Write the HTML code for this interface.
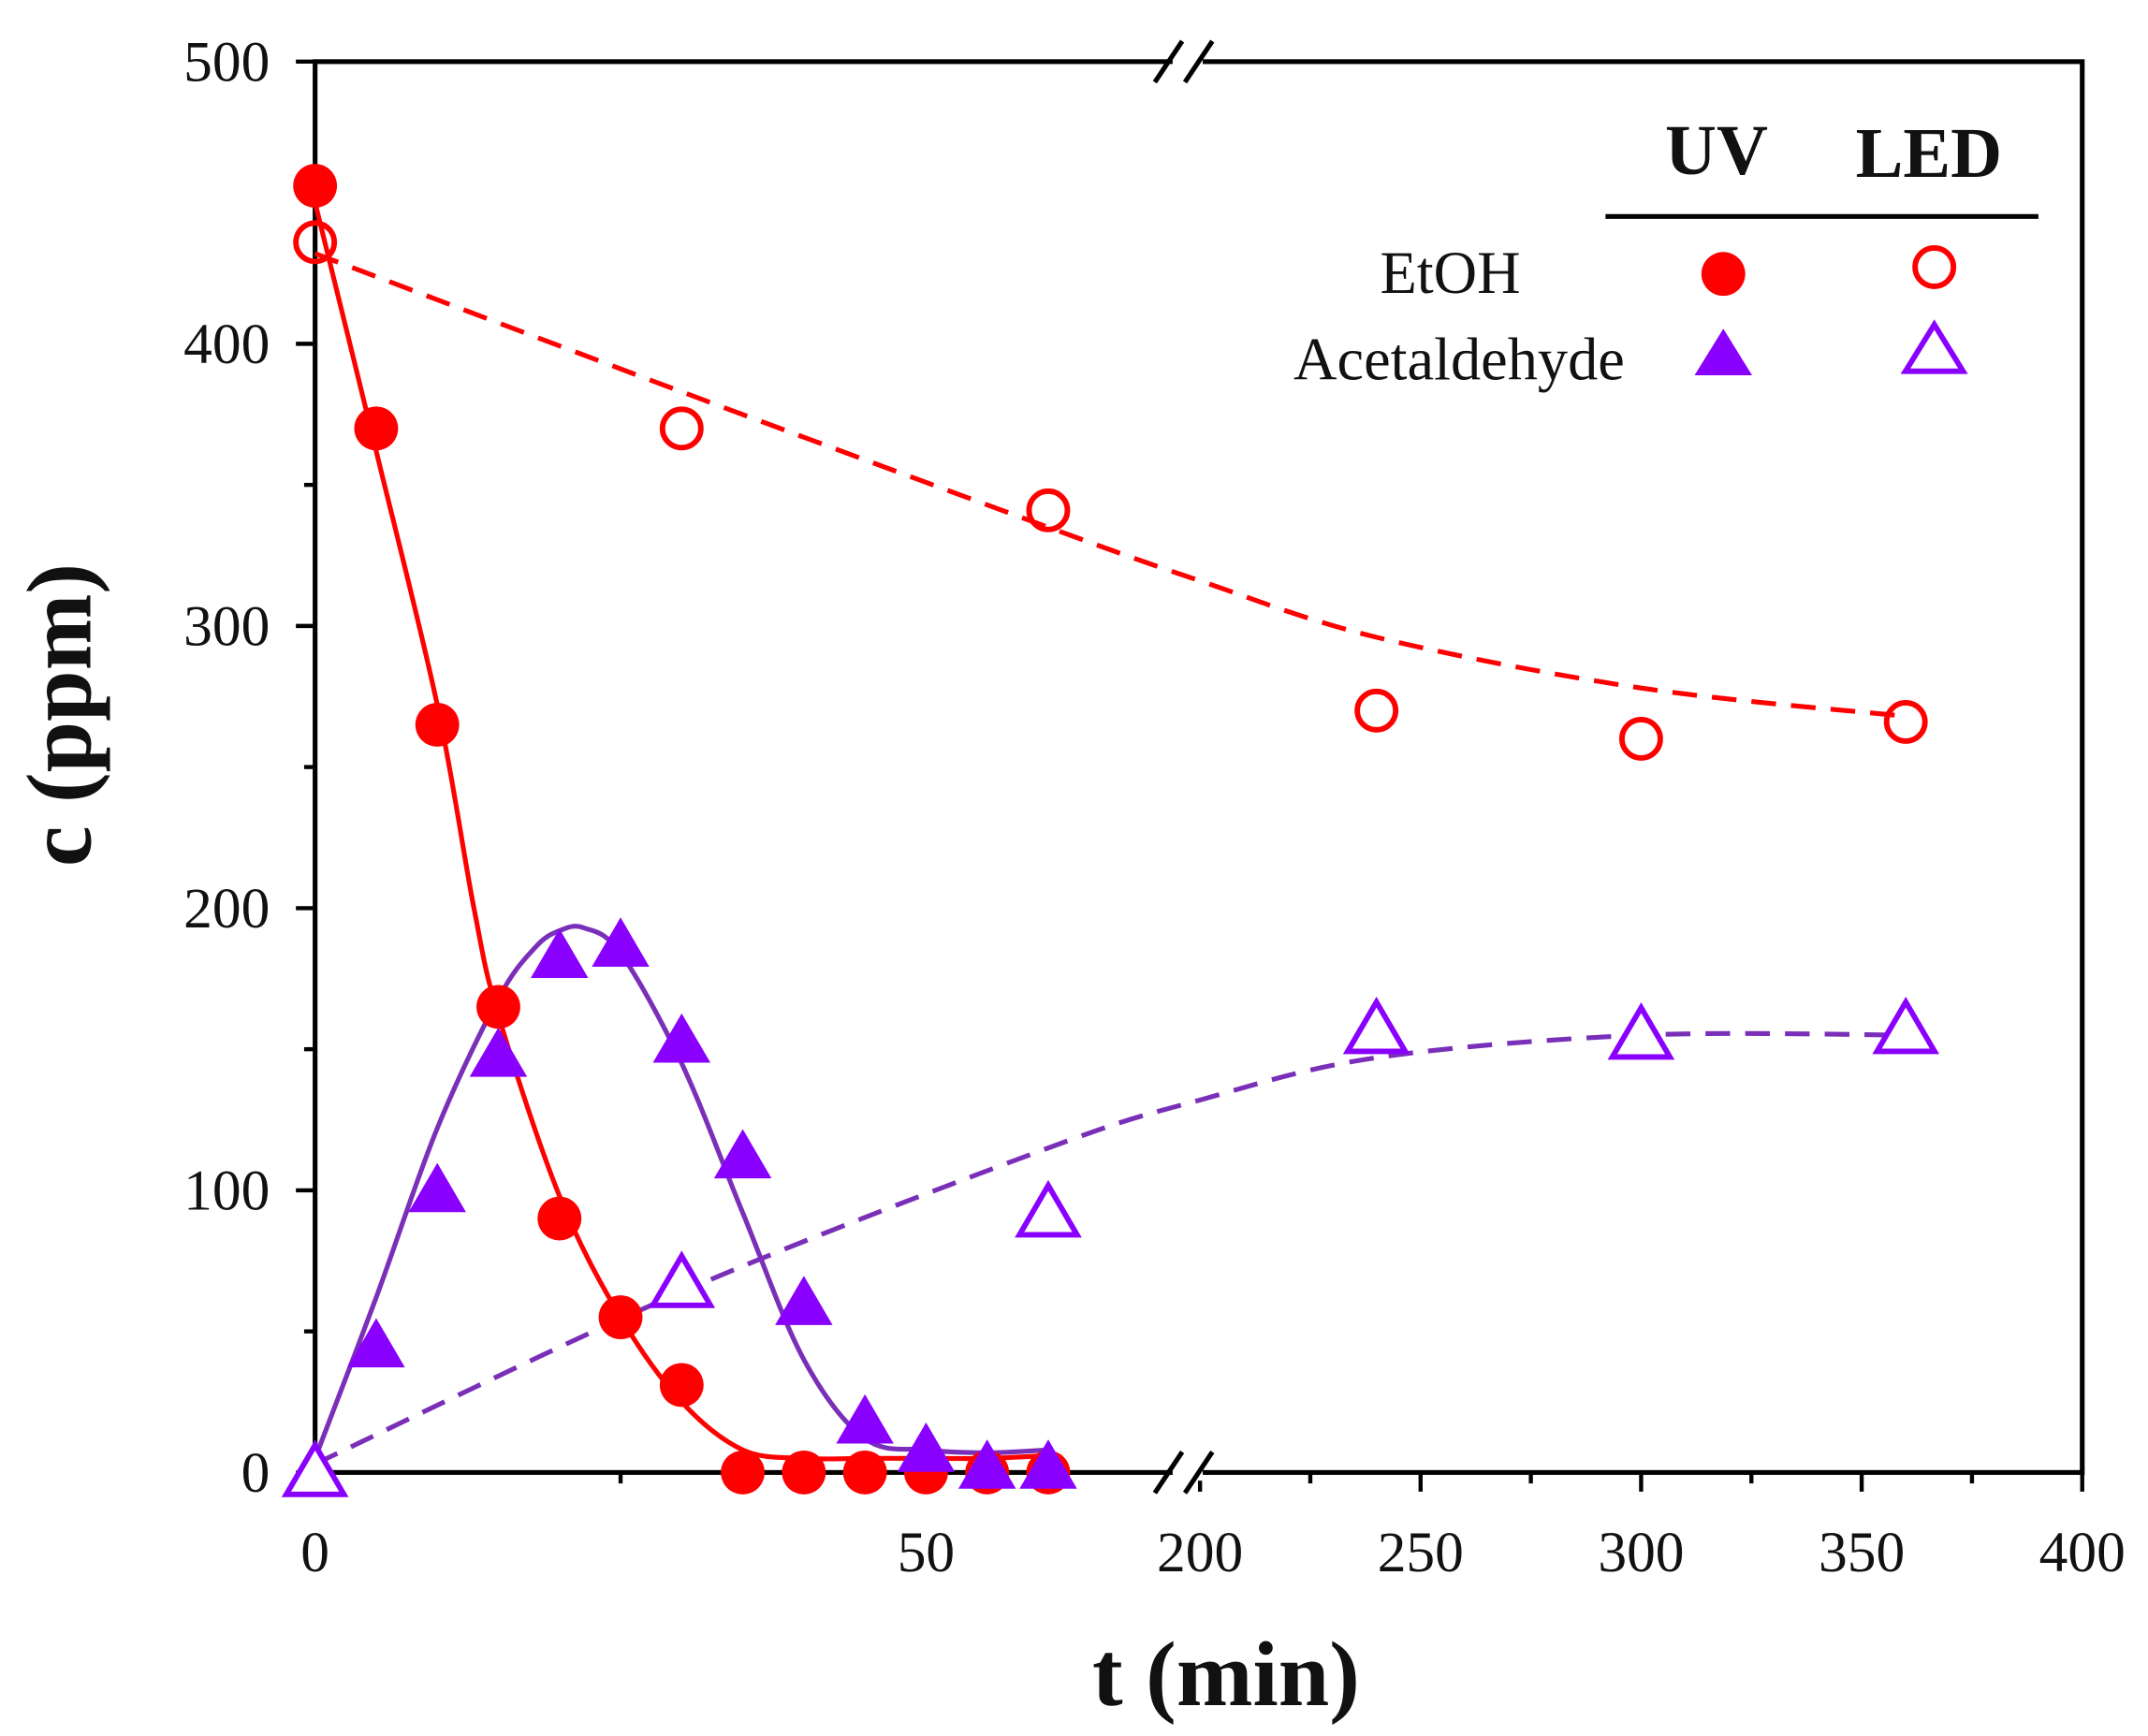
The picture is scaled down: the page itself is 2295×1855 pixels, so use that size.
<!DOCTYPE html>
<html><head><meta charset="utf-8"><style>
html,body{margin:0;padding:0;background:#fff;}
svg{display:block;}
text{font-family:"Liberation Serif",serif;fill:#111;}
</style></head><body>
<svg id="chart" width="2295" height="1855" viewBox="0 0 1568 1267.4" xmlns="http://www.w3.org/2000/svg"></svg>
<script>
// ---- data ----
const uvT = [0,5,10,15,20,25,30,35,40,45,50,55,60];
const uvEtOH = [456,370,265,165,90,55,31,0,0,0,0,0,0];
const uvAcet = [0,45,100,148,183,187,153,112,60,18,8,2,2];
const ledT = [0,30,60,240,300,360];
const ledEtOH = [436,370,341,270,260,266];
const ledAcet = [0,67,92,157,155,157];
const fitUvT = [0,5,10,13,15,20,25,30,35,40,45,50,55,60];
const fitUvEtOH = [450,362,272,200,162,98,55,25,8,5,5,5,5,6];
const fitUvAcetT = [0,5,10,15,18,20,22,25,30,35,40,45,50,55,60];
const fitUvAcet = [5,62,122,168,186,192,193,184,145,92,40,12,8,7,8];
const fitLedT = [0,30,60,200,240,300,360];
const fitLedEtOH = [432,383,335,316,296,278,268];
const fitLedAcet = [3,64,115,132,147,155,155];
const yTicks = [0,100,200,300,400,500];
const xTicksLeft = [0,50];
const xTicksRight = [200,250,300,350,400];

// ---- axes ----
const L=230,R=1520,T=45,B=1075;
function X(t){ return t<=100 ? 230 + t*(676-230)/50 : 876 + (t-200)*(1520-876)/200; }
function Y(v){ return B - v*(B-T)/500; }

const svg=document.getElementById('chart');
const NS='http://www.w3.org/2000/svg';
function mk(tag,attrs,parent){const e=document.createElementNS(NS,tag);for(const k in attrs)e.setAttribute(k,attrs[k]);(parent||svg).appendChild(e);return e;}

const axes=mk('g',{});


mk('rect',{x:L,y:T,width:R-L,height:B-T,fill:'none',stroke:'#000','stroke-width':3.5},axes);
for(let v=0;v<=500;v+=50){const maj=v%100===0;mk('line',{x1:L,x2:L-(maj?14:8),y1:Y(v),y2:Y(v),stroke:'#000','stroke-width':3},axes);}
yTicks.forEach(v=>{const t=mk('text',{x:197,y:Y(v)+14,'text-anchor':'end','font-size':42});t.textContent=v;

});
[0,25,50].forEach(v=>{const maj=v%50===0;mk('line',{x1:X(v),x2:X(v),y1:B,y2:B+(maj?14:8),stroke:'#000','stroke-width':3},axes);});
for(let v=200;v<=400;v+=25){const maj=v%50===0;mk('line',{x1:X(v),x2:X(v),y1:B,y2:B+(maj?14:8),stroke:'#000','stroke-width':3},axes);}
xTicksLeft.concat(xTicksRight).forEach(v=>{const t=mk('text',{x:X(v),y:B+72,'text-anchor':'middle','font-size':42});t.textContent=v;

});
[T,B].forEach(yy=>{
 mk('rect',{x:856,y:yy-6,width:22,height:12,fill:'#fff'},axes);
 mk('line',{x1:843,y1:yy+15,x2:863,y2:yy-15,stroke:'#000','stroke-width':3.5},axes);
 mk('line',{x1:865,y1:yy+15,x2:885,y2:yy-15,stroke:'#000','stroke-width':3.5},axes);
});

function pathFrom(ts,vs){
 const p=ts.map((t,i)=>[X(t),Y(vs[i])]);
 let d='M'+p[0][0]+','+p[0][1];
 for(let i=0;i<p.length-1;i++){
  const p0=p[i-1]||p[i],p1=p[i],p2=p[i+1],p3=p[i+2]||p2;
  const c1=[p1[0]+(p2[0]-p0[0])/6,p1[1]+(p2[1]-p0[1])/6];
  const c2=[p2[0]-(p3[0]-p1[0])/6,p2[1]-(p3[1]-p1[1])/6];
  d+=' C'+c1+' '+c2+' '+p2;
 }
 return d;
}
const c1=mk('path',{d:pathFrom(fitUvT,fitUvEtOH),fill:'none',stroke:'#f00','stroke-width':3.5});


const c2=mk('path',{d:pathFrom(fitUvAcetT,fitUvAcet),fill:'none',stroke:'#7a2fb8','stroke-width':3.5});


const c3=mk('path',{d:pathFrom(fitLedT,fitLedEtOH),fill:'none',stroke:'#f00','stroke-width':3.5,'stroke-dasharray':'18,11'});


const c4=mk('path',{d:pathFrom(fitLedT,fitLedAcet),fill:'none',stroke:'#7a2fb8','stroke-width':3.5,'stroke-dasharray':'18,11'});



function circ(x,y,filled){return mk('circle',{cx:x,cy:y,r:filled?16:14,fill:filled?'#f00':'none',stroke:'#f00','stroke-width':filled?0:4});}
function tri(x,y,filled){const s=20;return mk('polygon',{points:`${x},${y-s} ${x-s*1.05},${y+s*0.8} ${x+s*1.05},${y+s*0.8}`,fill:filled?'#8a00ff':'#fff',stroke:'#8a00ff','stroke-width':filled?0:4});}
ledT.forEach((t,i)=>{const e=circ(X(t),Y(ledEtOH[i]),false);

});
uvT.forEach((t,i)=>{const e=circ(X(t),Y(uvEtOH[i]),true);

});
uvT.forEach((t,i)=>{if(i===0)return;const e=tri(X(t),Y(uvAcet[i]),true);

});
ledT.forEach((t,i)=>{const e=tri(X(t),Y(ledAcet[i]),false);

});
</script>
<script>
(function(){
const svg=document.getElementById('chart');const NS='http://www.w3.org/2000/svg';
function mk(tag,attrs){const e=document.createElementNS(NS,tag);for(const k in attrs)e.setAttribute(k,attrs[k]);svg.appendChild(e);return e;}
let t=mk('text',{x:895,y:1245,'text-anchor':'middle','font-size':67,'font-weight':'bold'});t.textContent='t (min)';


t=mk('text',{x:0,y:0,'text-anchor':'middle','font-size':67,'font-weight':'bold',transform:'translate(66,522) rotate(-90)'});t.textContent='c (ppm)';


t=mk('text',{x:1253,y:127,'text-anchor':'middle','font-size':52,'font-weight':'bold'});t.textContent='UV';


t=mk('text',{x:1408,y:129,'text-anchor':'middle','font-size':52,'font-weight':'bold'});t.textContent='LED';


let l=mk('line',{x1:1172,x2:1488,y1:158,y2:158,stroke:'#000','stroke-width':3.5});


t=mk('text',{x:1110,y:214,'text-anchor':'end','font-size':44});t.textContent='EtOH';


t=mk('text',{x:1186,y:277,'text-anchor':'end','font-size':44});t.textContent='Acetaldehyde';


let m=mk('circle',{cx:1258,cy:200,r:16,fill:'#f00'});


m=mk('circle',{cx:1412,cy:195,r:14,fill:'none',stroke:'#f00','stroke-width':4});


m=mk('polygon',{points:'1258,240 1237,274 1279,274',fill:'#8a00ff'});


m=mk('polygon',{points:'1412,237 1391,271 1433,271',fill:'none',stroke:'#8a00ff','stroke-width':4});


})();
</script>
</body></html>
